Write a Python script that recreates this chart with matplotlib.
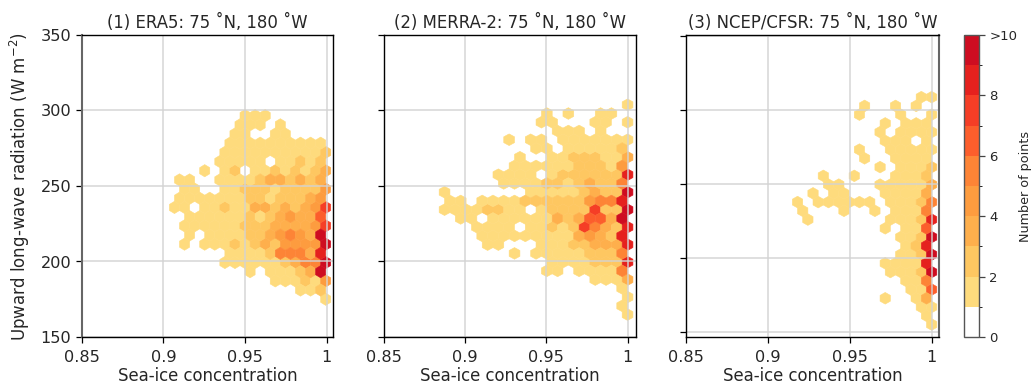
import numpy as np
import matplotlib
matplotlib.use("Agg")
import matplotlib.pyplot as plt
from matplotlib.colors import ListedColormap, BoundaryNorm

# Each row of the hexagon lattice, top to bottom: (column of first cell counted
# from the right edge, counts for every second column going right; '.' = empty)
ERA5_ROWS = [
    (16, "111"), (17, "111.1"), (18, "11..11"), (19, "1111111111"),
    (20, "11111111112"), (21, "11111.11212"), (24, "1.12.11212123"),
    (29, "11..11112332323"), (28, "11..11222122224"), (29, "111111122122234"),
    (30, "11.1121133232347"), (27, "11111121234336"), (28, "111111222333347"),
    (27, "1.111122345439"), (28, "1.1112123244449"), (19, "1111255538"),
    (20, "11111123559"), (15, "1.111239"), (10, "111214"), (5, "112"), (0, "1"),
]
MERRA_ROWS = [
    (0, "1"), (15, "1.1..11"), (16, "11...11.1"), (13, "111.1"),
    (22, "1.11.1111111"), (17, "11.111112"), (20, "1..11222113"),
    (21, "11111122214"), (24, "1111.12222228"), (23, "111122123225"),
    (34, "1.......1111123229"), (33, "11.11112222224558"),
    (34, "11112211.122227229"), (31, "11.1111113236639"),
    (28, "1111.1121275328"), (27, "11111111134328"), (26, "11...111223338"),
    (21, "1.111112225"), (14, "11112228"), (15, "11.11115"), (6, "1113"),
    (1, "1"), (0, "1"), (1, "1"), (0, "1"),
]
NCEP_ROWS = [
    (2, "11"), (13, "1..1.1"), (14, "1...1..1"), (9, "1.111"), (10, "1.1111"),
    (9, "111.1"), (14, "1..11111"), (13, "1..1111"), (10, "1.1112"),
    (21, "1..1...1112"), (20, "11...111113"), (23, "1.11...11113"),
    (26, "1.111111.11125"), (25, "1...1..1.1115"), (24, "1.......11128"),
    (9, "1.116"), (6, "1129"), (5, "128"), (6, "1129"), (9, "11118"),
    (8, "11129"), (5, "115"), (4, "116"), (9, "1..13"), (2, "11"), (1, "1"),
    (0, "1"),
]

TITLES = ["(1) ERA5: 75 ˚N, 180 ˚W", "(2) MERRA-2: 75 ˚N, 180 ˚W",
          "(3) NCEP/CFSR: 75 ˚N, 180 ˚W"]
X_TICKS = [0.85, 0.9, 0.95, 1.0]
X_LABELS = ["0.85", "0.9", "0.95", "1"]
Y_TICKS = [150, 200, 250, 300, 350]
CB_TICKS = [0, 2, 4, 6, 8, 10]
CB_LABELS = ["0", "2", "4", "6", "8", ">10"]
COLORS = ["#ffffff", "#fedb7d", "#fec761", "#feaf4c", "#fd9c3f",
          "#fd8436", "#fc5e2c", "#f53e26", "#e5211e", "#ce0d21"]

# lattice origin (x, y of the top right cell), half-steps and axis limits
PANELS = [
    dict(rows=ERA5_ROWS, x0=0.99939, dx=0.003086, y0=296.6, dy=6.08,
         box=(81.7, 333.3), xlim=(0.85, 1.00405), ylim=(150, 350)),
    dict(rows=MERRA_ROWS, x0=1.0, dx=0.003315, y0=303.8, dy=5.79,
         box=(384.0, 636.0), xlim=(0.85, 1.0052), ylim=(150, 350)),
    dict(rows=NCEP_ROWS, x0=1.0, dx=0.003153, y0=308.5, dy=5.91,
         box=(686.3, 939.0), xlim=(0.85, 1.0045), ylim=(146.4, 350.5)),
]

W, H = 1035, 385
TOP, BOTTOM = 35.0, 337.0
TEXT = "#262626"
cmap = ListedColormap(COLORS)
norm = BoundaryNorm(np.arange(0, 11), cmap.N)

fig = plt.figure(figsize=(W / 100, H / 100), dpi=100)


def expand(p):
    xs, ys, cs = [], [], []
    for r, (start, vals) in enumerate(p["rows"]):
        for i, ch in enumerate(vals):
            if ch != ".":
                xs.append(p["x0"] - (start - 2 * i) * p["dx"])
                ys.append(p["y0"] - r * p["dy"])
                cs.append(int(ch))
    return np.array(xs), np.array(ys), np.array(cs, float)


hb = None
for i, p in enumerate(PANELS):
    l, rgt = p["box"]
    ax = fig.add_axes([l / W, 1 - BOTTOM / H, (rgt - l) / W, (BOTTOM - TOP) / H])
    xs, ys, cs = expand(p)
    m = 24
    sx, sy = 2 * p["dx"], 2 * p["dy"]
    ext = (p["x0"] - m * sx, p["x0"] + 2 * sx, p["y0"] - m * sy, p["y0"] + 2 * sy)
    hb = ax.hexbin(xs, ys, C=cs, gridsize=(m + 2, m + 2), extent=ext,
                   reduce_C_function=np.max, cmap=cmap, norm=norm, linewidths=0.4)
    ax.set_xlim(*p["xlim"])
    ax.set_ylim(*p["ylim"])
    ax.set_xticks(X_TICKS, X_LABELS)
    ax.set_yticks(Y_TICKS)
    ax.set_axisbelow(False)
    ax.grid(True, color="#d3d3d3", lw=1.2, alpha=0.85)
    ax.tick_params(labelsize=11.6, labelcolor=TEXT, length=4, width=0.9)
    ax.tick_params(axis="x", pad=5)
    if i:
        ax.tick_params(labelleft=False)
    else:
        ax.set_ylabel("Upward long-wave radiation (W m$^{-2}$)", fontsize=12,
                      color=TEXT, labelpad=6)
    ax.set_xlabel("Sea-ice concentration", fontsize=11.9, color=TEXT, labelpad=2)
    ax.set_title(TITLES[i], fontsize=11.9, color=TEXT, pad=5)
    for s in ax.spines.values():
        s.set_linewidth(1.0)
        s.set_zorder(3)
    side = "right" if i == 2 else "left"
    if i != 1:
        ax.spines[side].set_color("#666666")
        ax.spines[side].set_linewidth(1.5)

cax = fig.add_axes([964 / W, 1 - BOTTOM / H, 15 / W, (BOTTOM - TOP) / H])
cb = fig.colorbar(hb, cax=cax, ticks=CB_TICKS, spacing="proportional")
cb.ax.set_yticklabels(CB_LABELS)
cb.ax.tick_params(labelsize=9.5, labelcolor=TEXT, length=4, width=0.9, color="#444444")
cb.outline.set_edgecolor("#555555")
cb.outline.set_linewidth(1.0)
cb.set_label("Number of points", fontsize=9.2, color=TEXT, labelpad=1)

fig.savefig("out.png", dpi=100)
